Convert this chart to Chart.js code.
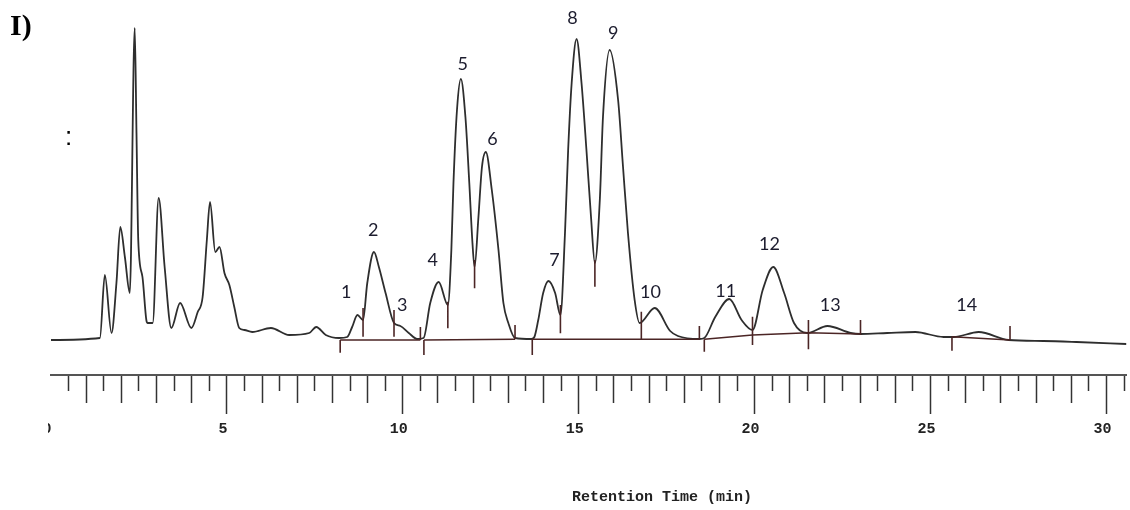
<!DOCTYPE html>
<html>
<head>
<meta charset="utf-8">
<script src="https://cdn.jsdelivr.net/npm/chart.js@4.4.1/dist/chart.umd.min.js"></script>
<style>
html, body { margin: 0; padding: 0; background: #fff; }
#wrap { width: 1130px; height: 510px; position: relative; }
</style>
</head>
<body>
<div id="wrap"><canvas id="chromchart"></canvas></div>
<script>
// detector trace: retention time (min) and signal
var timeMin = [0.00, 1.39, 1.53, 1.72, 1.86, 1.97, 2.10, 2.24, 2.38, 2.43, 2.48, 2.60, 2.71, 2.75, 2.89,
  3.06, 3.23, 3.42, 3.67, 3.99, 4.17, 4.31, 4.43, 4.52, 4.67, 4.79, 4.93, 5.07, 5.21, 5.35, 5.50, 5.72,
  6.25, 6.77, 7.34, 7.54, 7.81, 8.19, 8.42, 8.56, 8.71, 8.87, 8.99, 9.18, 9.32, 9.51, 9.75, 9.93, 10.17,
  10.41, 10.59, 10.78, 11.02, 11.28, 11.38, 11.44, 11.54, 11.65, 11.78, 11.89, 11.98, 12.04, 12.15, 12.25,
  12.36, 12.53, 12.72, 12.86, 13.00, 13.19, 13.66, 13.74, 13.85, 13.99, 14.14, 14.33, 14.48, 14.61, 14.70,
  14.80, 14.94, 15.08, 15.22, 15.35, 15.46, 15.60, 15.69, 15.88, 16.12, 16.26, 16.40, 16.59, 16.73, 17.16,
  17.60, 17.82, 18.43, 18.57, 18.88, 19.28, 19.63, 19.94, 20.23, 20.53, 20.84, 21.12, 21.50, 22.07, 22.73,
  23.01, 23.77, 24.57, 25.37, 25.66, 26.37, 27.22, 28.21, 29.15, 30.57];
var signal = [0, 2, 65, 7, 57, 113, 83, 47, 312, 207, 100, 63, 20, 17, 17,
  142, 73, 12, 37, 12, 28, 43, 100, 138, 88, 93, 67, 55, 33, 12, 10, 8,
  12, 5, 7, 13, 5, 2, 3, 13, 25, 20, 57, 88, 73, 47, 17, 14, 7,
  1, 2, 37, 58, 35, 90, 157, 230, 261, 223, 157, 97, 73, 123, 173,
  188, 150, 90, 37, 17, 2, 1, 3, 20, 47, 59, 47, 25, 107, 190,
  257, 301, 257, 190, 123, 77, 140, 223, 290, 240, 173, 107, 40, 17, 32,
  9, 4, 1, 2, 23, 41, 20, 10, 50, 73, 47, 17, 7, 14, 7,
  6, 7, 8, 3, 3, 8, 0, -1, -2, -4];

// integration baselines (null splits the segments)
var baseT = [8.22, 10.50, null, 10.60, 13.19, null, 13.66, 18.43, null, 18.57, 19.94, 21.53, 23.01, null, 25.61, 27.26];
var baseV = [0, 0, null, 0, 0.7, null, 0.7, 0.7, null, 0.7, 5, 7.3, 6, null, 3.3, 0];

// peak start/end marks
var markT    = [8.22, 8.87, 9.75, 10.50, 10.60, 11.28, 12.04, 13.19, 13.68, 14.48, 15.46, 16.78, 18.43, 18.57, 19.94, 21.53, 23.01, 25.61, 27.26];
var markLow  = [-12.7, 3.3, 3.3, 0, -15, 11.7, 51.7, 0.7, -15, 6.7, 53.3, 0, 0.7, -11.7, -5, -9.3, 5, -10.7, 0];
var markHigh = [0, 32, 30, 13, 0, 38.3, 80, 15, 0.7, 35, 80, 28.3, 14, 0.7, 23.3, 20, 20, 3.3, 14];

// peak numbers and where they sit
var peakNames = ['1', '2', '3', '4', '5', '6', '7', '8', '9', '10', '11', '12', '13', '14'];
var peakLabelT = [8.39, 9.16, 9.98, 10.85, 11.70, 12.55, 14.31, 14.82, 15.98, 17.04, 19.18, 20.42, 22.15, 26.03];
var peakLabelV = [48, 110, 35, 80, 276, 201, 80, 322, 307, 48, 49, 96, 35, 35];

var xMax = 30.57;

var tracePts = timeMin.map(function (t, i) { return { x: t, y: signal[i] }; });

var basePts = [];
var lastT = 0;
baseT.forEach(function (t, i) {
	if (t === null) { basePts.push({ x: lastT, y: null }); }
	else { basePts.push({ x: t, y: baseV[i] }); lastT = t; }
});

var markPts = [];
markT.forEach(function (t, i) {
	markPts.push({ x: t, y: markLow[i] }, { x: t, y: markHigh[i] }, { x: t, y: null });
});

var textPlugin = {
	id: 'chromText',
	afterDraw: function (chart) {
		var c = chart.ctx;
		var xs = chart.scales.x, ys = chart.scales.y;
		c.save();
		// the original crop cuts the "0" label in half
		c.fillStyle = '#fff';
		c.fillRect(0, xs.top + 2, 48, 70);
		c.fillStyle = '#1c1c2e';
		c.font = '18px Lato';
		c.textAlign = 'center';
		c.textBaseline = 'middle';
		peakNames.forEach(function (n, i) {
			c.fillText(n, xs.getPixelForValue(peakLabelT[i]), ys.getPixelForValue(peakLabelV[i]));
		});
		// panel tag
		c.fillStyle = '#000';
		c.font = 'bold 30px "Liberation Serif"';
		c.textAlign = 'left';
		c.textBaseline = 'alphabetic';
		c.fillText('I)', 10, 35);
		c.font = '26px "Liberation Sans"';
		c.fillText(':', 65, 145);
		// axis title
		c.fillStyle = '#222';
		c.font = 'bold 15px "Liberation Mono"';
		c.textAlign = 'center';
		c.textBaseline = 'middle';
		c.fillText('Retention Time (min)', 662, 497);
		c.restore();
	}
};

var ctx = document.getElementById('chromchart');
var chromchart = new Chart(ctx, {
	type: 'line',
	data: {
		datasets: [{
			label: 'marks',
			data: markPts,
			borderColor: '#4b2525',
			borderWidth: 1.6,
			pointRadius: 0,
			tension: 0,
			spanGaps: false,
			order: 1
		}, {
			label: 'baseline',
			data: basePts,
			borderColor: '#4b2525',
			borderWidth: 1.6,
			pointRadius: 0,
			tension: 0,
			spanGaps: false,
			order: 2
		}, {
			label: 'trace',
			data: tracePts,
			borderColor: '#2e2e2e',
			borderWidth: 1.8,
			pointRadius: 0,
			cubicInterpolationMode: 'monotone',
			order: 3
		}]
	},
	options: {
		responsive: true,
		maintainAspectRatio: false,
		animation: false,
		layout: { padding: { left: 51, right: 0, top: 0, bottom: 0 } },
		plugins: {
			legend: { display: false },
			tooltip: { enabled: false }
		},
		scales: {
			x: {
				type: 'linear',
				min: 0,
				max: xMax,
				afterFit: function (scale) { scale.height = 135; },
				border: { display: true, color: '#555', width: 2 },
				grid: {
					display: true,
					drawOnChartArea: false,
					drawTicks: true,
					tickLength: 39,
					tickColor: function (c) {
						return c.tick && c.tick.value === 0 ? 'rgba(0,0,0,0)' : '#333';
					},
					tickWidth: 1.5,
					tickBorderDash: function (c) {
						var v = c.tick ? c.tick.value : 0;
						if (Math.abs(v % 5) < 1e-6) return [];
						if (Math.abs(v % 1) < 1e-6) return [27, 200];
						return [15, 200];
					}
				},
				ticks: {
					stepSize: 0.5,
					autoSkip: false,
					includeBounds: false,
					maxRotation: 0,
					labelOffset: -4,
					padding: 6,
					color: '#222',
					font: { family: 'Liberation Mono', weight: 'bold', size: 15 },
					callback: function (v) { return Math.abs(v % 5) < 1e-6 ? String(v) : ''; }
				}
			},
			y: {
				display: false,
				min: -35,
				max: 340
			}
		}
	},
	plugins: [textPlugin]
});
</script>
</body>
</html>
